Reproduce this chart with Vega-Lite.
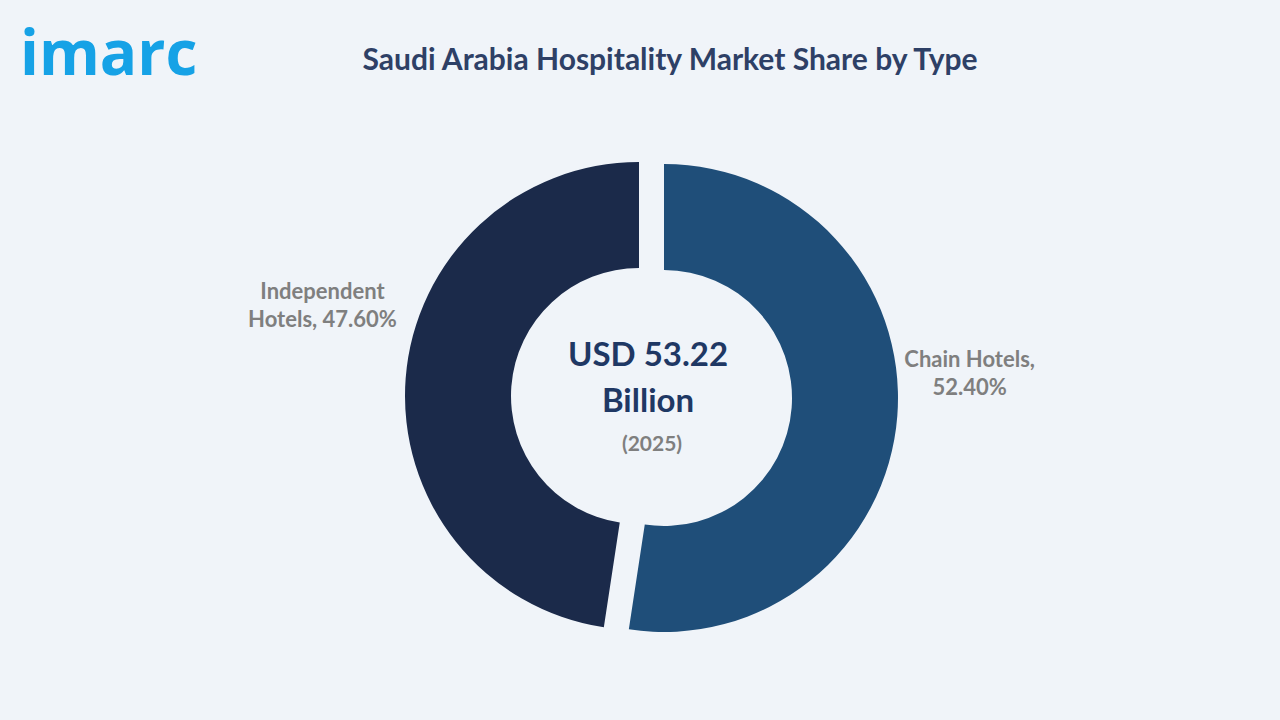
{
  "$schema": "https://vega.github.io/schema/vega-lite/v6.json",
  "width": 1280,
  "height": 720,
  "autosize": {"type": "fit", "contains": "padding"},
  "padding": {"top": 10, "left": 0, "right": 0, "bottom": 0},
  "background": "#f0f4f9",
  "config": {"view": {"stroke": null}},
  "title": {
    "text": "Saudi Arabia Hospitality Market Share by Type",
    "anchor": "middle",
    "frame": "group",
    "font": "Lato",
    "fontSize": 30,
    "fontWeight": "bold",
    "color": "#2e4066",
    "dx": 30,
    "offset": -66
  },
  "datasets": {
    "shares": [
      {"Type": "Chain Hotels", "Share": 52.4, "label": "Chain Hotels,\n52.40%"},
      {"Type": "Independent Hotels", "Share": 47.6, "label": "Independent\nHotels, 47.60%"}
    ],
    "center": [{"value": "USD 53.22\nBillion", "year": "(2025)"}],
    "logo": [{"name": "imarc"}]
  },
  "layer": [
    {
      "data": {"name": "shares"},
      "transform": [
        {"stack": "Share", "groupby": [], "sort": [{"field": "Type", "order": "ascending"}], "as": ["s0", "s1"]},
        {"filter": "datum.Type === 'Chain Hotels'"}
      ],
      "mark": {"type": "arc", "outerRadius": 234, "innerRadius": 128, "xOffset": 24, "yOffset": 33},
      "encoding": {
        "theta": {"field": "s0", "type": "quantitative", "stack": null, "scale": {"domain": [0, 100]}},
        "theta2": {"field": "s1"},
        "color": {"field": "Type", "type": "nominal", "legend": null,
          "scale": {"domain": ["Chain Hotels", "Independent Hotels"], "range": ["#1f4e79", "#1b2a4a"]}}
      }
    },
    {
      "data": {"name": "shares"},
      "transform": [
        {"stack": "Share", "groupby": [], "sort": [{"field": "Type", "order": "ascending"}], "as": ["s0", "s1"]},
        {"filter": "datum.Type === 'Independent Hotels'"}
      ],
      "mark": {"type": "arc", "outerRadius": 234, "innerRadius": 128, "xOffset": -1, "yOffset": 31},
      "encoding": {
        "theta": {"field": "s0", "type": "quantitative", "stack": null, "scale": {"domain": [0, 100]}},
        "theta2": {"field": "s1"},
        "color": {"field": "Type", "type": "nominal", "legend": null,
          "scale": {"domain": ["Chain Hotels", "Independent Hotels"], "range": ["#1f4e79", "#1b2a4a"]}}
      }
    },
    {
      "data": {"name": "shares"},
      "transform": [
        {"stack": "Share", "groupby": [], "sort": [{"field": "Type", "order": "ascending"}], "as": ["s0", "s1"]},
        {"calculate": "(datum.s0 + datum.s1) / 2", "as": "mid"},
        {"filter": "datum.Type === 'Chain Hotels'"}
      ],
      "mark": {"type": "text", "radius": 304, "dx": 26.5, "dy": -28, "font": "Lato", "fontSize": 22, "fontWeight": "bold",
        "color": "#7f7f7f", "lineBreak": "\n", "lineHeight": 28, "align": "center", "baseline": "middle"},
      "encoding": {
        "theta": {"field": "mid", "type": "quantitative", "stack": null, "scale": {"domain": [0, 100]}},
        "text": {"field": "label"}
      }
    },
    {
      "data": {"name": "shares"},
      "transform": [
        {"stack": "Share", "groupby": [], "sort": [{"field": "Type", "order": "ascending"}], "as": ["s0", "s1"]},
        {"calculate": "(datum.s0 + datum.s1) / 2", "as": "mid"},
        {"filter": "datum.Type === 'Independent Hotels'"}
      ],
      "mark": {"type": "text", "radius": 330, "dx": 11.5, "dy": -48, "font": "Lato", "fontSize": 22, "fontWeight": "bold",
        "color": "#7f7f7f", "lineBreak": "\n", "lineHeight": 28, "align": "center", "baseline": "middle"},
      "encoding": {
        "theta": {"field": "mid", "type": "quantitative", "stack": null, "scale": {"domain": [0, 100]}},
        "text": {"field": "label"}
      }
    },
    {
      "data": {"name": "center"},
      "mark": {"type": "text", "dx": 8, "dy": -9, "font": "Lato", "fontSize": 33, "fontWeight": "bold",
        "color": "#1f3864", "lineBreak": "\n", "lineHeight": 46, "align": "center", "baseline": "middle"},
      "encoding": {"text": {"field": "value"}}
    },
    {
      "data": {"name": "center"},
      "mark": {"type": "text", "dx": 12, "dy": 80, "font": "Lato", "fontSize": 21, "fontWeight": "bold",
        "color": "#7f7f7f", "align": "center", "baseline": "middle"},
      "encoding": {"text": {"field": "year"}}
    },
    {
      "data": {"name": "logo"},
      "mark": {"type": "text", "font": "Open Sans", "fontSize": 62, "fontWeight": "bold",
        "color": "#16a2e6", "align": "left", "baseline": "alphabetic"},
      "encoding": {
        "text": {"field": "name"},
        "x": {"value": 20},
        "y": {"value": 65}
      }
    }
  ]
}
